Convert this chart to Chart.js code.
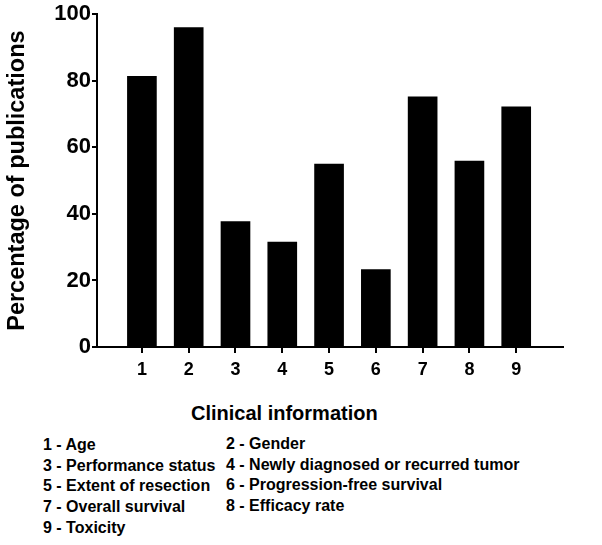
<!DOCTYPE html>
<html>
<head>
<meta charset="utf-8">
<script src="https://cdn.jsdelivr.net/npm/chart.js@4/dist/chart.umd.min.js"></script>
<style>
html,body{margin:0;padding:0;background:#fff;}
#wrap{position:relative;width:602px;height:545px;overflow:hidden;}
#c{position:absolute;left:0;top:0;}
.t{position:absolute;font-family:'Liberation Sans',Arial,sans-serif;font-weight:bold;color:#000;white-space:nowrap;}
#xtitle{left:191px;top:401px;font-size:20px;line-height:24px;}
.col{position:absolute;top:435px;font-family:'Liberation Sans',Arial,sans-serif;font-weight:bold;font-size:16px;line-height:20.7px;color:#000;white-space:nowrap;}
</style>
</head>
<body>
<div id="wrap">
<canvas id="c" width="602" height="400"></canvas>
<div id="xtitle" class="t"></div>
<div id="col1" class="col" style="left:43px;"></div>
<div id="col2" class="col" style="left:226px;top:434px;"></div>
</div>
<script>
const categories = [1, 2, 3, 4, 5, 6, 7, 8, 9];
const values = [81.3, 96.0, 37.7, 31.5, 55.0, 23.3, 75.2, 55.9, 72.2];
const yTicks = [0, 20, 40, 60, 80, 100];
const yTitle = 'Percentage of publications';
const xTitle = 'Clinical information';
const legendLeft = ['1 - Age', '3 - Performance status', '5 - Extent of resection', '7 - Overall survival', '9 - Toxicity'];
const legendRight = ['2 - Gender', '4 - Newly diagnosed or recurred tumor', '6 - Progression-free survival', '8 - Efficacy rate'];

document.getElementById('xtitle').textContent = xTitle;
document.getElementById('col1').innerHTML = legendLeft.map(s => '<div>' + s + '</div>').join('');
document.getElementById('col2').innerHTML = legendRight.map(s => '<div>' + s + '</div>').join('');

const FONT = "'Liberation Sans', Arial, sans-serif";

new Chart(document.getElementById('c'), {
  type: 'bar',
  data: {
    datasets: [{
      data: categories.map((c, i) => ({ x: c, y: values[i] })),
      backgroundColor: '#000',
      borderWidth: 0,
      barThickness: 29
    }]
  },
  options: {
    responsive: false,
    animation: false,
    devicePixelRatio: 1,
    layout: { padding: { left: 0, top: 14, right: 39, bottom: 0 } },
    plugins: { legend: { display: false }, tooltip: { enabled: false } },
    scales: {
      x: {
        type: 'linear',
        offset: false,
        min: 0.04,
        max: 10,
        afterBuildTicks: s => { s.ticks = categories.map(v => ({ value: v })); },
        afterFit: s => { s.height = 53; },
        border: { display: true, color: '#000', width: 2 },
        grid: { display: true, offset: false, drawOnChartArea: false, drawTicks: true, tickLength: 6, color: '#000', lineWidth: 2 },
        ticks: { color: '#000', font: { family: FONT, size: 18, weight: 'bold' }, padding: 6, callback: v => String(v), maxRotation: 0, autoSkip: false }
      },
      y: {
        min: 0,
        max: 100,
        afterBuildTicks: s => { s.ticks = yTicks.map(v => ({ value: v })); },
        afterFit: s => { s.width = 97; },
        border: { display: true, color: '#000', width: 2 },
        grid: { display: true, drawOnChartArea: false, drawTicks: true, tickLength: 5, color: '#000', lineWidth: 2 },
        ticks: { color: '#000', font: { family: FONT, size: 22, weight: 'bold' }, padding: 1 },
        title: { display: true, text: yTitle, color: '#000', font: { family: FONT, size: 23.5, weight: 'bold' }, padding: { top: 3, bottom: 0 } }
      }
    }
  }
});
</script>
</body>
</html>
